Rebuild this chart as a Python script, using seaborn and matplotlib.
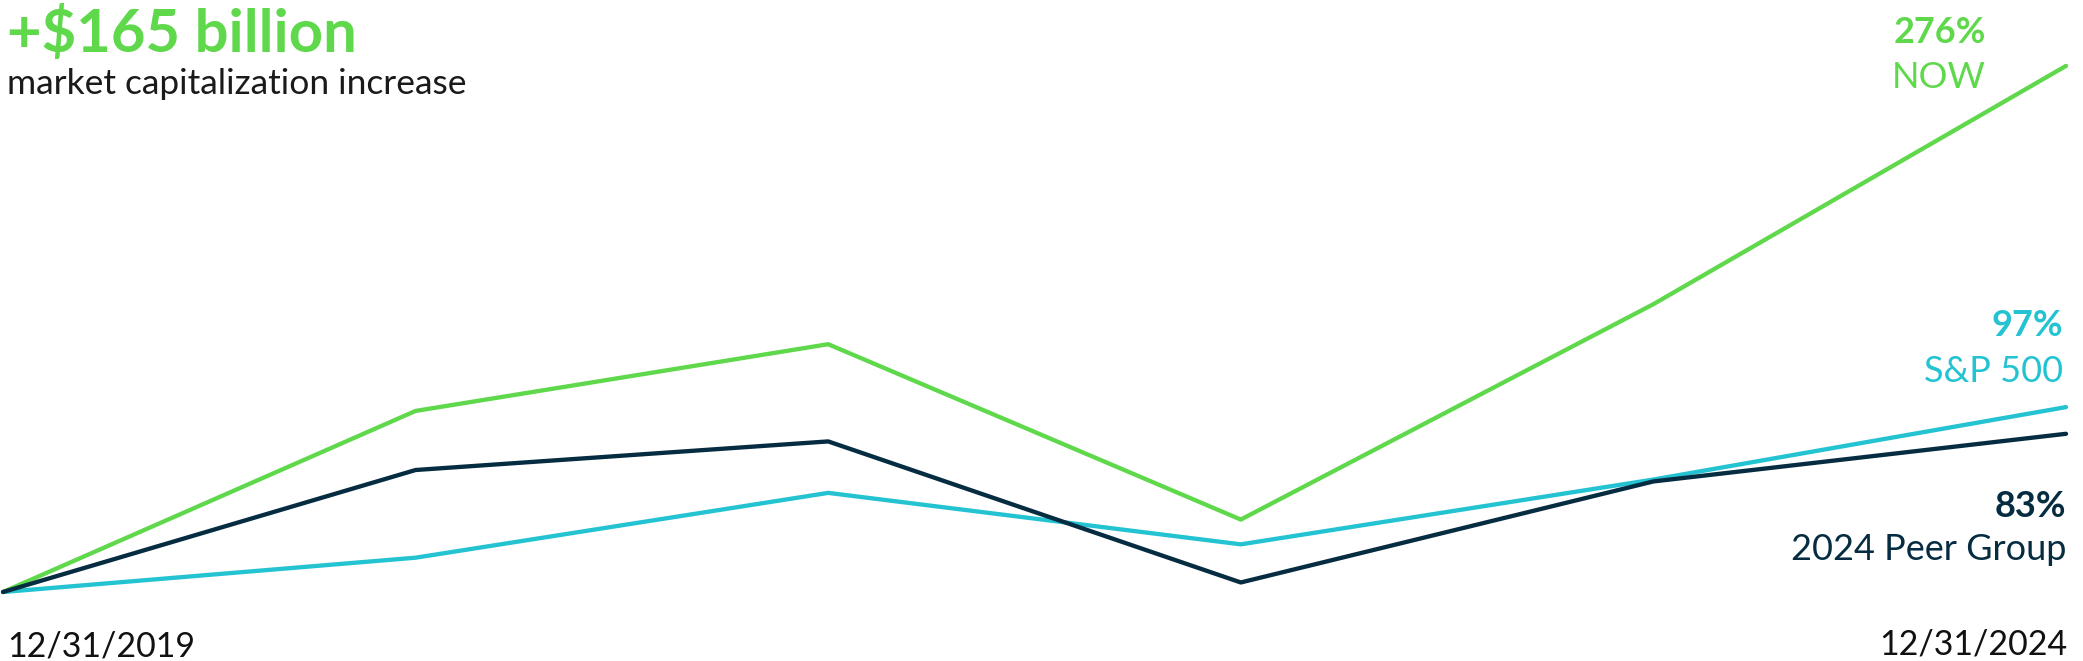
import pandas as pd
import matplotlib
matplotlib.use("Agg")
import matplotlib.pyplot as plt
import seaborn as sns

# values (cumulative return %, 12/31/2019 = 0)
years = [2019, 2020, 2021, 2022, 2023, 2024]
now_vals = [0, 95, 130, 38, 151, 276]
sp500_vals = [0, 18, 52, 25, 59, 97]
peer_vals = [0, 64, 79, 5, 58, 83]

series_names = ["NOW", "S&P 500", "2024 Peer Group"]
end_labels = ["276%", "97%", "83%"]
start_date = "12/31/2019"
end_date = "12/31/2024"

GREEN = "#5fd84c"
CYAN = "#24c3d2"
NAVY = "#062c42"

df = pd.DataFrame({
    "year": years * 3,
    "value": now_vals + sp500_vals + peer_vals,
    "series": [series_names[0]] * 6 + [series_names[1]] * 6 + [series_names[2]] * 6,
})

sns.set_style("white")
plt.rcParams["font.family"] = ["Lato", "DejaVu Sans"]

W, H = 2083, 661
fig = plt.figure(figsize=(W / 100, H / 100), dpi=100)


def fx(x):
    return x / W


def fy(y):
    return 1 - y / H


# axes: x pixels 3..2066, y=0 at pixel 592, 277 at pixel 64
ax = fig.add_axes([fx(3), fy(592), fx(2066) - fx(3), fy(64) - fy(592)])
sns.lineplot(data=df, x="year", y="value", hue="series", ax=ax,
             palette={series_names[0]: GREEN, series_names[1]: CYAN, series_names[2]: NAVY},
             linewidth=3.1, legend=False, clip_on=False)
ax.set_xlim(years[0], years[-1])
ax.set_ylim(0, 277)
ax.axis("off")

# headline
fig.text(fx(7), fy(52), "+$165 billion", color=GREEN, fontsize=43, fontweight="bold", va="baseline")
fig.text(fx(7), fy(94), "market capitalization increase", color="#1a1a1a", fontsize=25.5, va="baseline")

# end labels
fig.text(fx(1986), fy(43), end_labels[0], color=GREEN, fontsize=26, fontweight="bold", ha="right", va="baseline")
fig.text(fx(1986), fy(88), series_names[0], color=GREEN, fontsize=26, ha="right", va="baseline")
fig.text(fx(2063), fy(336), end_labels[1], color=CYAN, fontsize=26, fontweight="bold", ha="right", va="baseline")
fig.text(fx(2063), fy(382), series_names[1], color=CYAN, fontsize=26, ha="right", va="baseline")
fig.text(fx(2066), fy(517), end_labels[2], color=NAVY, fontsize=26, fontweight="bold", ha="right", va="baseline")
fig.text(fx(2066), fy(560), series_names[2], color=NAVY, fontsize=26, ha="right", va="baseline")

# dates
fig.text(fx(7), fy(657), start_date, color="#111111", fontsize=24.5, va="baseline")
fig.text(fx(2067), fy(655), end_date, color="#111111", fontsize=24.5, ha="right", va="baseline")

fig.savefig("out.png", dpi=100, facecolor="white")
